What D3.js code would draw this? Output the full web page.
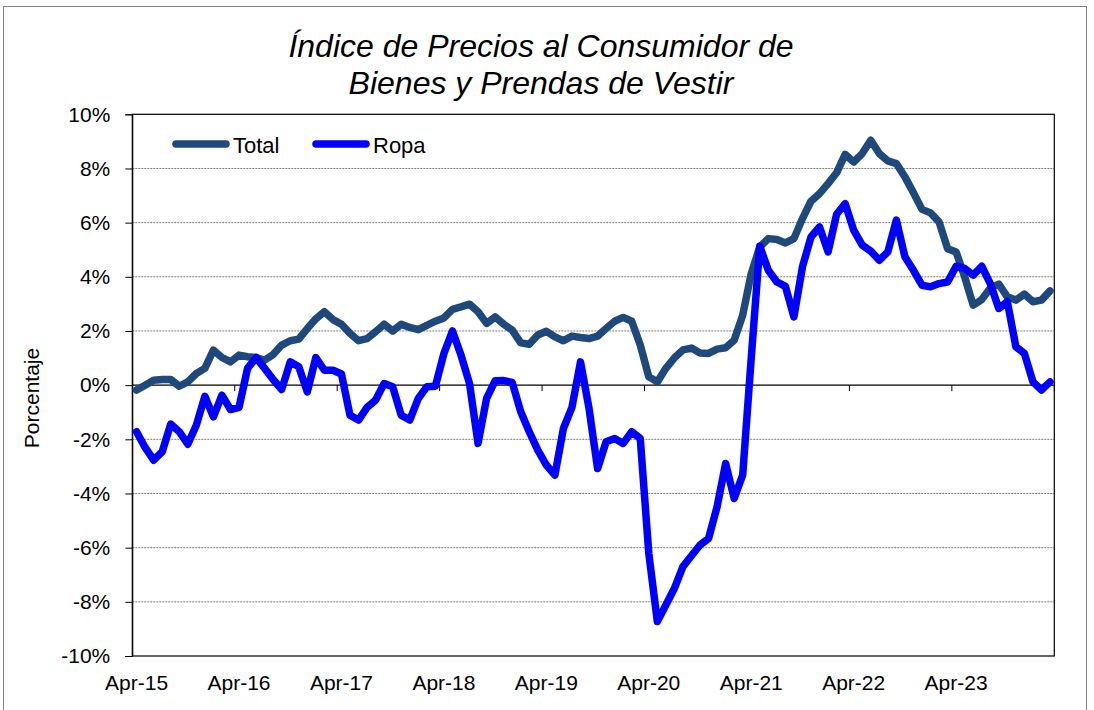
<!DOCTYPE html>
<html>
<head>
<meta charset="utf-8">
<script src="https://cdn.jsdelivr.net/npm/d3@7"></script>
<style>
  html, body { margin: 0; padding: 0; background: #fff; }
  svg { display: block; }
  text { font-family: "Liberation Sans", Arial, sans-serif; fill: #000; }
</style>
</head>
<body>
<svg id="chart" width="1094" height="710"></svg>
<script>
// ---- Data ----
const monthNames = ["Apr","May","Jun","Jul","Aug","Sep","Oct","Nov","Dec","Jan","Feb","Mar"];
const startYear = 15;
const categories = [];
for (let k = 0; k < 108; k++) {
  const m = k % 12;
  const y = startYear + Math.floor(k / 12) + (m >= 9 ? 1 : 0);
  categories.push(monthNames[m] + "-" + String(y).padStart(2, "0"));
}
const tickLabels = ["Apr-15","Apr-16","Apr-17","Apr-18","Apr-19","Apr-20","Apr-21","Apr-22","Apr-23"];
const yTicks = [-10,-8,-6,-4,-2,0,2,4,6,8,10];

const total = [
  -0.18, 0.00, 0.18, 0.21, 0.21, -0.04, 0.12, 0.43, 0.62, 1.29, 1.02, 0.86,
  1.11, 1.05, 1.02, 0.92, 1.13, 1.48, 1.64, 1.70, 2.09, 2.45, 2.71, 2.42,
  2.25, 1.91, 1.64, 1.72, 1.97, 2.25, 2.00, 2.25, 2.13, 2.05, 2.21, 2.36,
  2.48, 2.80, 2.89, 2.99, 2.71, 2.28, 2.52, 2.25, 2.03, 1.56, 1.51, 1.85,
  1.99, 1.78, 1.64, 1.81, 1.76, 1.72, 1.81, 2.09, 2.36, 2.50, 2.36, 1.48,
  0.31, 0.12, 0.62, 1.01, 1.30, 1.37, 1.19, 1.17, 1.33, 1.38, 1.66, 2.58,
  4.12, 5.10, 5.41, 5.38, 5.25, 5.41, 6.15, 6.79, 7.07, 7.44, 7.84, 8.52,
  8.24, 8.55, 9.04, 8.55, 8.28, 8.18, 7.69, 7.10, 6.49, 6.36, 6.03, 5.04,
  4.92, 4.00, 2.95, 3.16, 3.58, 3.73, 3.26, 3.14, 3.36, 3.08, 3.14, 3.48
];
const ropa = [
  -1.72, -2.30, -2.77, -2.46, -1.44, -1.72, -2.18, -1.48, -0.41, -1.17, -0.37, -0.90,
  -0.82, 0.62, 1.02, 0.62, 0.21, -0.16, 0.86, 0.68, -0.25, 1.02, 0.55, 0.55,
  0.41, -1.11, -1.29, -0.82, -0.55, 0.06, -0.06, -1.11, -1.29, -0.49, -0.06, -0.04,
  1.17, 2.00, 1.11, 0.06, -2.15, -0.49, 0.16, 0.17, 0.10, -0.98, -1.72, -2.40,
  -2.95, -3.32, -1.60, -0.82, 0.86, -0.86, -3.08, -2.09, -1.97, -2.15, -1.72, -1.97,
  -6.21, -8.73, -8.12, -7.50, -6.70, -6.30, -5.90, -5.66, -4.49, -2.89, -4.18, -3.32,
  1.00, 5.13, 4.24, 3.81, 3.65, 2.52, 4.37, 5.47, 5.84, 4.92, 6.31, 6.70,
  5.72, 5.17, 4.95, 4.61, 4.92, 6.09, 4.74, 4.24, 3.69, 3.63, 3.75, 3.81,
  4.39, 4.31, 4.06, 4.39, 3.75, 2.83, 3.08, 1.42, 1.17, 0.12, -0.18, 0.12
];
const seriesNames = ["Total", "Ropa"];
const seriesColors = ["#1F497D", "#0000FF"];

// ---- Layout ----
const svg = d3.select("#chart");
const L = 132.3, R = 1054.3, T = 114.3, B = 656;
const FONT = '"Liberation Sans", Arial, sans-serif';

// outer frame
svg.append("rect").attr("x", 3.5).attr("y", 6.5).attr("width", 1083).attr("height", 720)
  .attr("fill", "none").attr("stroke", "#7f7f7f").attr("stroke-width", 1);

const x = d3.scaleBand().domain(categories).range([L, R]).padding(0);
const y = d3.scaleLinear().domain([-10, 10]).range([B, T]);
const cx = c => x(c) + x.bandwidth() / 2;

// gridlines
svg.append("g").selectAll("line").data(yTicks.filter(v => v !== 0 && v !== 10 && v !== -10))
  .join("line")
  .attr("x1", L).attr("x2", R)
  .attr("y1", d => y(d)).attr("y2", d => y(d))
  .attr("stroke", "#7a7a7a").attr("stroke-width", 1).attr("stroke-dasharray", "2,1");

// plot border
svg.append("rect").attr("x", L).attr("y", T).attr("width", R - L).attr("height", B - T)
  .attr("fill", "none").attr("stroke", "#000").attr("stroke-width", 1.2);

// y axis
const yAxis = d3.axisLeft(y).tickValues(yTicks).tickSize(7).tickPadding(15)
  .tickFormat(d => d + "%");
const gy = svg.append("g").attr("transform", `translate(${L},0)`).call(yAxis);
gy.select(".domain").attr("stroke", "#000");
gy.selectAll(".tick line").attr("stroke", "#000");
gy.selectAll(".tick text").attr("font-size", 21).attr("font-family", FONT).attr("fill", "#000");

// x axis along zero line: ticks at year boundaries
const boundaries = d3.range(12, 109, 12).map(k => L + x.bandwidth() * k);
const gx = svg.append("g");
gx.append("line").attr("x1", L).attr("x2", R).attr("y1", y(0)).attr("y2", y(0))
  .attr("stroke", "#000").attr("stroke-width", 1.2);
gx.selectAll("line.tk").data(boundaries).join("line").attr("class", "tk")
  .attr("x1", d => d).attr("x2", d => d).attr("y1", y(0)).attr("y2", y(0) + 6)
  .attr("stroke", "#000").attr("stroke-width", 1);

// x labels at bottom
svg.append("g").selectAll("text").data(tickLabels).join("text")
  .attr("x", d => cx(d))
  .attr("y", 690)
  .attr("text-anchor", "middle")
  .attr("font-size", 21)
  .text(d => d);

// lines
const lineGen = d3.line().x((d, i) => cx(categories[i])).y(d => y(d));
[total, ropa].forEach((s, k) => {
  svg.append("path").datum(s)
    .attr("d", lineGen)
    .attr("fill", "none")
    .attr("stroke", seriesColors[k])
    .attr("stroke-width", 7.5)
    .attr("stroke-linejoin", "round")
    .attr("stroke-linecap", "round");
});

// legend
const legendPos = [{x1: 176, x2: 226, tx: 233}, {x1: 316, x2: 366, tx: 373}];
seriesNames.forEach((n, k) => {
  svg.append("line").attr("x1", legendPos[k].x1).attr("x2", legendPos[k].x2)
    .attr("y1", 144).attr("y2", 144)
    .attr("stroke", seriesColors[k]).attr("stroke-width", 7.5).attr("stroke-linecap", "round");
  svg.append("text").attr("x", legendPos[k].tx).attr("y", 152.5)
    .attr("font-size", 22).text(n);
});

// title
svg.append("text").attr("x", 541).attr("y", 57).attr("text-anchor", "middle")
  .attr("font-size", 32).attr("font-style", "italic").text("Índice de Precios al Consumidor de");
svg.append("text").attr("x", 541).attr("y", 94).attr("text-anchor", "middle")
  .attr("font-size", 32).attr("font-style", "italic").text("Bienes y Prendas de Vestir");

// y axis title
svg.append("text").attr("transform", "translate(39,398) rotate(-90)")
  .attr("text-anchor", "middle").attr("font-size", 21).text("Porcentaje");
</script>
</body>
</html>
